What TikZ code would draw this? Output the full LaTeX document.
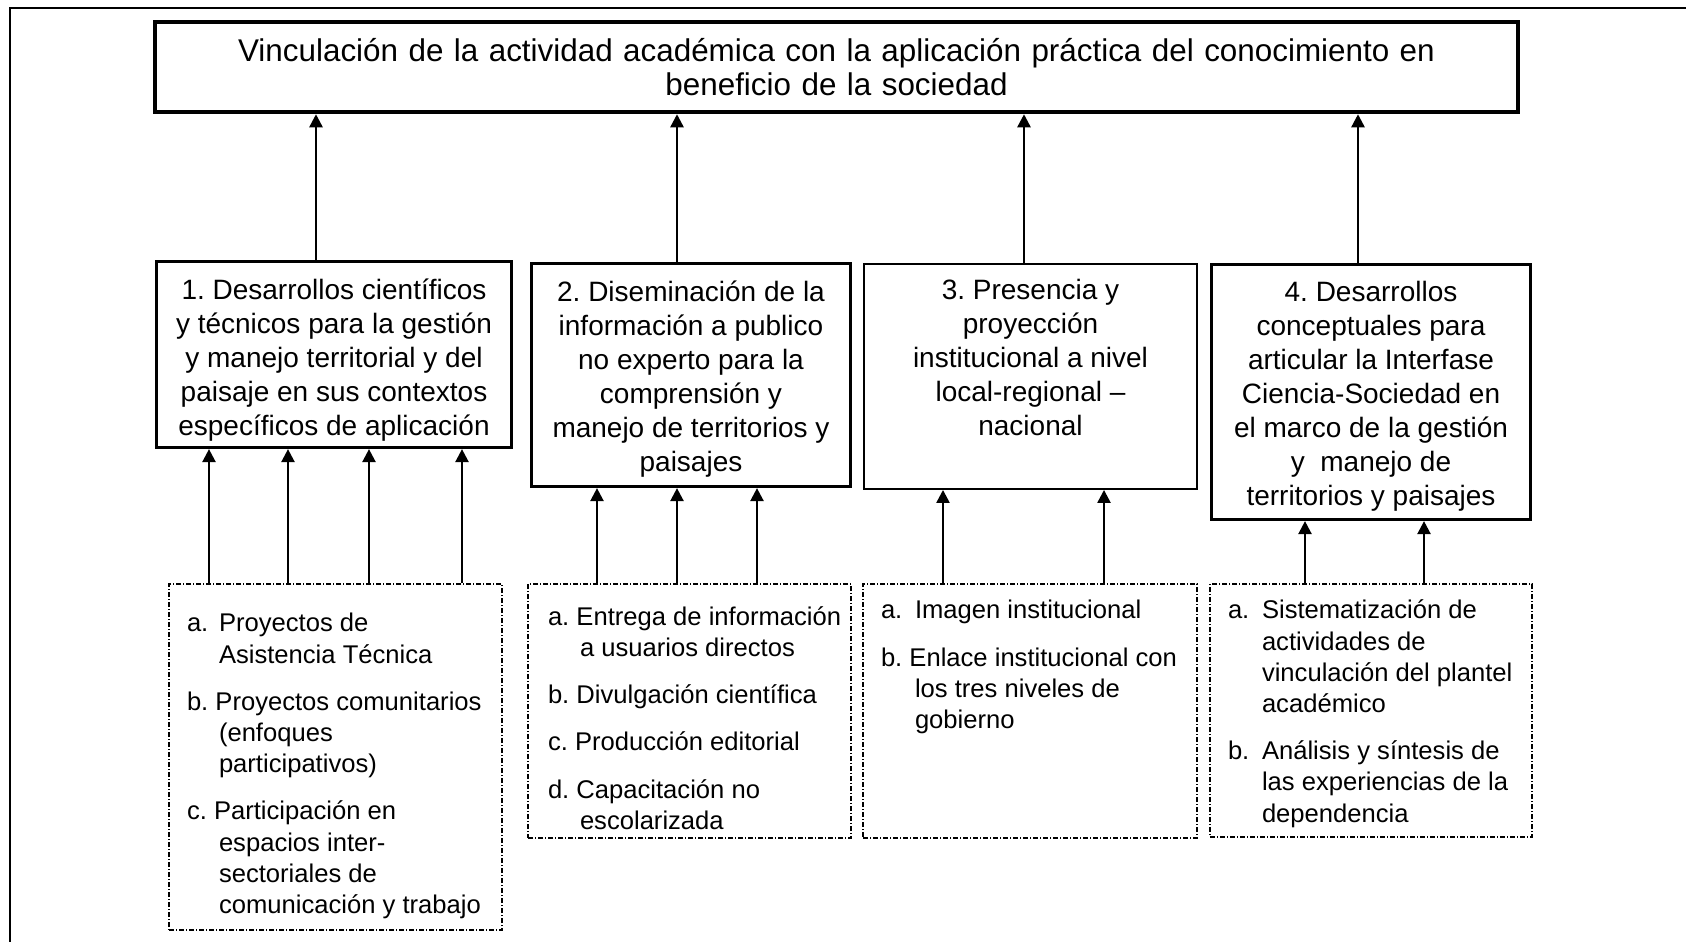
\documentclass[tikz,border=0pt]{standalone}
\usepackage{fontspec}
\setmainfont{Liberation Sans}
\usetikzlibrary{arrows.meta}
\AtBeginDocument{\frenchspacing}
\newcommand\itT[3]{\par\begingroup\let\\\newline\hangindent=#1\hangafter=1\noindent\strut\makebox[#1][l]{#2}#3\par\endgroup}
\newcommand\itS[3]{\par\begingroup\let\\\newline\hangindent=#1\hangafter=1\noindent\strut#2 #3\par\endgroup}
\newcommand\itsep{\vspace{8pt}}
\newcommand\boxtext[4]{\parbox[c][#1][t]{#2}{\fontsize{14}{17}\selectfont\centering\vspace*{#3}\strut #4}}
\tikzset{
  bigbox/.style={draw, line width=1.6pt, inner sep=0pt},
  thinbox/.style={draw, line width=0.75pt, inner sep=0pt},
  listbox/.style={draw, line width=0.6pt, inner sep=0pt, dash pattern=on 2.5pt off 1pt on 0.5pt off 1pt},
  arr/.style={line width=1.2pt, -{Triangle[length=6.5pt,width=6.5pt]}},
  frame/.style={line width=0.9pt}
}
\begin{document}
\begin{tikzpicture}[x=1pt,y=-1pt]
\useasboundingbox (0,0) rectangle (843,471);
\draw[frame] (5,471) -- (5,4) -- (843,4);

\node[bigbox, line width=2.25pt, minimum width=681.5pt, minimum height=45pt, text width=675pt, align=center, font=\fontsize{15.7}{16.7}\selectfont] (top) at (418.25,33.5)
 {Vinculación de la actividad académica con la aplicación práctica del conocimiento en\\ beneficio de la sociedad};

\node[bigbox] (b1) at (167,177.25)
 {\boxtext{93pt}{177.5pt}{6.9pt}{1. Desarrollos científicos\\ y técnicos para la gestión\\ y manejo territorial y del\\ paisaje en sus contextos\\ específicos de aplicación}};

\node[bigbox] (b2) at (345.5,187.5)
 {\boxtext{111.5pt}{159.5pt}{6.85pt}{2. Diseminación de la\\ información a publico\\ no experto para la\\ comprensión y\\ manejo de territorios y\\ paisajes}};

\node[thinbox] (b3) at (515.25,188.25)
 {\boxtext{112.7pt}{166.7pt}{5.8pt}{3. Presencia y\\ proyección\\ institucional a nivel\\ local-regional --\\ nacional}};

\node[bigbox] (b4) at (685.5,196)
 {\boxtext{127.5pt}{159.5pt}{6.45pt}{4. Desarrollos\\ conceptuales para\\ articular la Interfase\\ Ciencia-Sociedad en\\ el marco de la gestión\\ y\ \ manejo de\\ territorios y paisajes}};

\node[listbox] (a1) at (167.75,378.5)
 {\parbox[c][173pt][t]{166.5pt}{\fontsize{12.8}{15.6}\selectfont\raggedright\leftskip=9pt\vspace*{13pt}%
  \itT{16pt}{a.}{Proyectos de\\Asistencia Técnica}\itsep
  \itS{16pt}{b.}{Proyectos comunitarios\\(enfoques\\participativos)}\itsep
  \itS{16pt}{c.}{Participación en\\espacios inter-\\sectoriales de\\comunicación y trabajo}}};

\node[listbox] (a2) at (344.75,355.5)
 {\parbox[c][127pt][t]{161.5pt}{\fontsize{12.8}{15.6}\selectfont\raggedright\leftskip=10pt\vspace*{9.7pt}%
  \itS{16pt}{a.}{Entrega de información\\a usuarios directos}\itsep
  \itS{16pt}{b.}{Divulgación científica}\itsep
  \itS{16pt}{c.}{Producción editorial}\itsep
  \itS{16pt}{d.}{Capacitación no\\escolarizada}}};

\node[listbox] (a3) at (515,355.5)
 {\parbox[c][127pt][t]{167pt}{\fontsize{12.8}{15.6}\selectfont\raggedright\leftskip=9pt\vspace*{6.55pt}%
  \itT{17pt}{a.}{Imagen institucional}\itsep
  \itS{17pt}{b.}{Enlace institucional con\\los tres niveles de\\gobierno}}};

\node[listbox] (a4) at (685.5,355.25)
 {\parbox[c][126.5pt][t]{161pt}{\fontsize{12.8}{15.6}\selectfont\raggedright\leftskip=9pt\vspace*{6.55pt}%
  \itT{17pt}{a.}{Sistematización de\\actividades de\\vinculación del plantel\\académico}\itsep
  \itT{17pt}{b.}{Análisis y síntesis de\\las experiencias de la\\dependencia}}};

% arrows to top box
\draw[arr] (b1.north) ++(-9,0) coordinate (u1) -- (u1 |- top.south);
\draw[arr] (b2.north) ++(-7,0) coordinate (u2) -- (u2 |- top.south);
\draw[arr] (b3.north) ++(-3.25,0) coordinate (u3) -- (u3 |- top.south);
\draw[arr] (b4.north) ++(-6.5,0) coordinate (u4) -- (u4 |- top.south);

% arrows from lists
\draw[arr] (a1.north) ++(-63.25,0) coordinate (l11) -- (l11 |- b1.south);
\draw[arr] (a1.north) ++(-23.75,0) coordinate (l12) -- (l12 |- b1.south);
\draw[arr] (a1.north) ++(16.75,0) coordinate (l13) -- (l13 |- b1.south);
\draw[arr] (a1.north) ++(63.25,0) coordinate (l14) -- (l14 |- b1.south);

\draw[arr] (a2.north) ++(-46.25,0) coordinate (l21) -- (l21 |- b2.south);
\draw[arr] (a2.north) ++(-6.25,0) coordinate (l22) -- (l22 |- b2.south);
\draw[arr] (a2.north) ++(33.75,0) coordinate (l23) -- (l23 |- b2.south);

\draw[arr] (a3.north) ++(-43.5,0) coordinate (l31) -- (l31 |- b3.south);
\draw[arr] (a3.north) ++(37,0) coordinate (l32) -- (l32 |- b3.south);

\draw[arr] (a4.north) ++(-33,0) coordinate (l41) -- (l41 |- b4.south);
\draw[arr] (a4.north) ++(26.5,0) coordinate (l42) -- (l42 |- b4.south);
\end{tikzpicture}
\end{document}
